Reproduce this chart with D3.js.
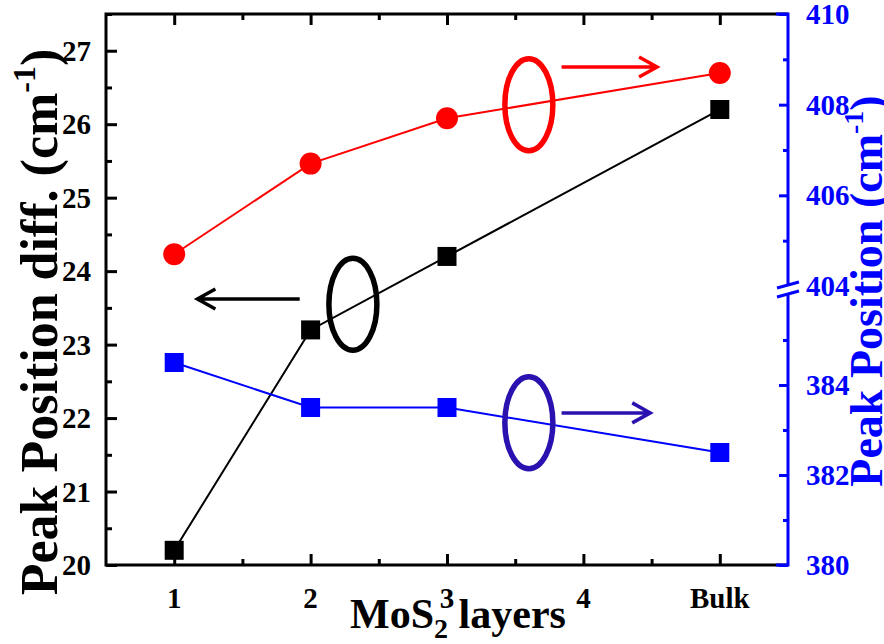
<!DOCTYPE html>
<html>
<head>
<meta charset="utf-8">
<script src="https://cdn.jsdelivr.net/npm/d3@7"></script>
<style>
  html, body { margin: 0; padding: 0; background: #fff; }
  svg { display: block; }
  text { font-family: "Liberation Serif", "Times New Roman", serif; font-weight: bold; }
</style>
</head>
<body>
<svg id="chart" width="884" height="644"></svg>
<script>
// ---- data ----
const categories = ["1", "2", "3", "4", "Bulk"];
const categoryPos = [1, 2, 3, 4, 5];
const layerPos = [1, 2, 3, 5];
const peakDiff = [20.2, 23.2, 24.2, 26.2];        // left axis (black squares)
const peakA1g = [404.7, 406.7, 407.7, 408.7];     // right axis, upper segment (red circles)
const peakE2g = [384.5, 383.5, 383.5, 382.5];     // right axis, lower segment (blue squares)
const leftTicks = [20, 21, 22, 23, 24, 25, 26, 27];
const leftMinor = [20.5, 21.5, 22.5, 23.5, 24.5, 25.5, 26.5, 27.5];
const rightTicks = [380, 382, 384, 404, 406, 408, 410];
const rightMinor = [381, 383, 385, 405, 407, 409];
const xMinor = [1.5, 2.5, 3.5, 4.5];

const svg = d3.select("#chart");
const L = 106, R = 788, T = 14, B = 565;

const x = d3.scaleLinear().domain([0.5, 5.5]).range([L, R]);
const yL = d3.scaleLinear().domain([20, 27.5]).range([B, T]);
// right axis with a break between 386 and 404
const yR = d3.scaleLinear().domain([380, 386, 404, 410]).range([B, 295, 286, T]);

const BLUE = "#0000ff", RED = "#ff0000", INDIGO = "#2a12b0";

// ---- frame (black) ----
const frame = svg.append("g").attr("stroke", "#000").attr("stroke-width", 3).attr("fill", "none");
frame.append("path").attr("d", `M${R},${T}H${L}V${B}H${R}`);

// left axis ticks (inward)
svg.append("g").attr("transform", `translate(${L},0)`)
  .call(d3.axisLeft(yL).tickValues(leftTicks).tickSize(-11).tickFormat(""))
  .call(g => g.select(".domain").remove())
  .call(g => g.selectAll("line").attr("stroke", "#000").attr("stroke-width", 3));
svg.append("g").attr("transform", `translate(${L},0)`)
  .call(d3.axisLeft(yL).tickValues(leftMinor).tickSize(-6).tickFormat(""))
  .call(g => g.select(".domain").remove())
  .call(g => g.selectAll("line").attr("stroke", "#000").attr("stroke-width", 3));
// left labels
svg.append("g").selectAll("text").data(leftTicks).join("text")
  .attr("x", 91).attr("y", d => yL(d)).attr("dy", "0.35em")
  .attr("text-anchor", "end").attr("font-size", 29).attr("fill", "#000")
  .text(d => d);

// bottom axis ticks (inward)
svg.append("g").attr("transform", `translate(0,${B})`)
  .call(d3.axisBottom(x).tickValues(categoryPos).tickSize(-11).tickFormat(""))
  .call(g => g.select(".domain").remove())
  .call(g => g.selectAll("line").attr("stroke", "#000").attr("stroke-width", 3));
svg.append("g").attr("transform", `translate(0,${B})`)
  .call(d3.axisBottom(x).tickValues(xMinor).tickSize(-6).tickFormat(""))
  .call(g => g.select(".domain").remove())
  .call(g => g.selectAll("line").attr("stroke", "#000").attr("stroke-width", 3));
// top axis ticks (inward)
svg.append("g").attr("transform", `translate(0,${T})`)
  .call(d3.axisTop(x).tickValues(categoryPos).tickSize(-11).tickFormat(""))
  .call(g => g.select(".domain").remove())
  .call(g => g.selectAll("line").attr("stroke", "#000").attr("stroke-width", 3));
svg.append("g").attr("transform", `translate(0,${T})`)
  .call(d3.axisTop(x).tickValues(xMinor).tickSize(-6).tickFormat(""))
  .call(g => g.select(".domain").remove())
  .call(g => g.selectAll("line").attr("stroke", "#000").attr("stroke-width", 3));
// bottom labels
svg.append("g").selectAll("text").data(categories).join("text")
  .attr("x", (d, i) => x(categoryPos[i])).attr("y", 608)
  .attr("text-anchor", "middle").attr("font-size", 29).attr("fill", "#000")
  .text(d => d);

// right axis (blue) with break
const rg = svg.append("g");
rg.append("path").attr("d", `M${R - 12},${T}H${R}V${B}H${R - 12}`)
  .attr("fill", "none").attr("stroke", BLUE).attr("stroke-width", 3);
svg.append("g").attr("transform", `translate(${R},0)`)
  .call(d3.axisRight(yR).tickValues(rightTicks.filter(d => d !== 404)).tickSize(-9).tickFormat(""))
  .call(g => g.select(".domain").remove())
  .call(g => g.selectAll("line").attr("stroke", BLUE).attr("stroke-width", 3));
svg.append("g").attr("transform", `translate(${R},0)`)
  .call(d3.axisRight(yR).tickValues(rightMinor).tickSize(-5).tickFormat(""))
  .call(g => g.select(".domain").remove())
  .call(g => g.selectAll("line").attr("stroke", BLUE).attr("stroke-width", 3));
// break symbol
const yb = yR(404);
rg.append("path").attr("d", `M${R - 11},${yb + 2}L${R + 11},${yb - 4}L${R + 11},${yb + 5}L${R - 11},${yb + 11}Z`)
  .attr("fill", "#fff").attr("stroke", "none");
rg.append("path").attr("d", `M${R - 11},${yb + 2}L${R + 11},${yb - 4}M${R - 11},${yb + 11}L${R + 11},${yb + 5}`)
  .attr("fill", "none").attr("stroke", BLUE).attr("stroke-width", 3);
// right labels
svg.append("g").selectAll("text").data(rightTicks).join("text")
  .attr("x", 806).attr("y", d => yR(d)).attr("dy", "0.35em")
  .attr("text-anchor", "start").attr("font-size", 29).attr("fill", BLUE)
  .text(d => d);

// ---- series ----
const lineL = d3.line().x((d, i) => x(layerPos[i])).y(d => yL(d));
const lineR = d3.line().x((d, i) => x(layerPos[i])).y(d => yR(d));

svg.append("path").datum(peakDiff).attr("d", lineL).attr("fill", "none").attr("stroke", "#000").attr("stroke-width", 2);
svg.append("path").datum(peakA1g).attr("d", lineR).attr("fill", "none").attr("stroke", RED).attr("stroke-width", 2);
svg.append("path").datum(peakE2g).attr("d", lineR).attr("fill", "none").attr("stroke", BLUE).attr("stroke-width", 2);

const S = 19;
svg.append("g").selectAll("rect").data(peakDiff).join("rect")
  .attr("x", (d, i) => x(layerPos[i]) - S / 2).attr("y", d => yL(d) - S / 2)
  .attr("width", S).attr("height", S).attr("fill", "#000");
svg.append("g").selectAll("rect").data(peakE2g).join("rect")
  .attr("x", (d, i) => x(layerPos[i]) - S / 2).attr("y", d => yR(d) - S / 2)
  .attr("width", S).attr("height", S).attr("fill", BLUE);
svg.append("g").selectAll("circle").data(peakA1g).join("circle")
  .attr("cx", (d, i) => x(layerPos[i])).attr("cy", d => yR(d)).attr("r", 11)
  .attr("fill", RED);

// ---- annotations (ellipses + arrows pointing to the axis of each series) ----
const ellipses = [
  { cx: x(3.6), cy: yR(408.0), color: RED },
  { cx: x(2.31), cy: yL(23.55), color: "#000" },
  { cx: x(3.6), cy: yR(383.16), color: INDIGO }
];
svg.append("g").selectAll("ellipse").data(ellipses).join("ellipse")
  .attr("cx", d => d.cx).attr("cy", d => d.cy).attr("rx", 24).attr("ry", 46)
  .attr("fill", "none").attr("stroke", d => d.color).attr("stroke-width", 5.5);

const arrows = [
  { x1: x(3.84), x2: x(4.54), y: yR(408.83), color: RED },
  { x1: x(1.92), x2: x(1.17), y: yL(23.62), color: "#000" },
  { x1: x(3.84), x2: x(4.49), y: yR(383.38), color: INDIGO }
];
const ag = svg.append("g").attr("fill", "none");
arrows.forEach(a => {
  const dir = Math.sign(a.x2 - a.x1);
  ag.append("path")
    .attr("d", `M${a.x1},${a.y}H${a.x2}M${a.x2 - dir * 18},${a.y - 10}L${a.x2},${a.y}L${a.x2 - dir * 18},${a.y + 10}`)
    .attr("stroke", a.color).attr("stroke-width", 3.5);
});

// ---- axis titles ----
const lt = svg.append("text")
  .attr("transform", "translate(57,322) rotate(-90)")
  .attr("text-anchor", "middle").attr("font-size", 52).attr("fill", "#000");
lt.append("tspan").text("Peak Position diff. (cm");
lt.append("tspan").attr("font-size", 32).attr("dy", -22).text("-1");
lt.append("tspan").attr("dy", 22).text(")");

const rt = svg.append("text")
  .attr("transform", "translate(882,291) rotate(-90)")
  .attr("text-anchor", "middle").attr("font-size", 46).attr("fill", BLUE);
rt.append("tspan").text("Peak Position (cm");
rt.append("tspan").attr("font-size", 28).attr("dy", -19).text("-1");
rt.append("tspan").attr("dy", 19).text(")");

const xt = svg.append("text")
  .attr("x", 458).attr("y", 628)
  .attr("text-anchor", "middle").attr("font-size", 42).attr("fill", "#000");
xt.append("tspan").text("MoS");
xt.append("tspan").attr("font-size", 28).attr("dy", 10).text("2");
xt.append("tspan").attr("dy", -10).text(" layers");
</script>
</body>
</html>
